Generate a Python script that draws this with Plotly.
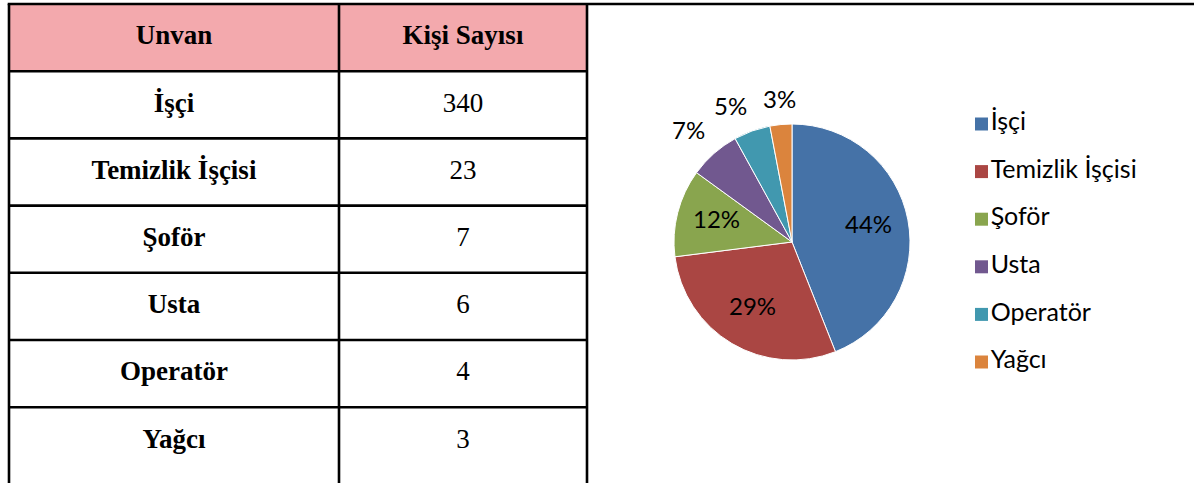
import math
import plotly.graph_objects as go

# ---------------- data ----------------
header = ["Unvan", "Kişi Sayısı"]
titles = ["İşçi", "Temizlik İşçisi", "Şoför", "Usta", "Operatör", "Yağcı"]
counts = [340, 23, 7, 6, 4, 3]
pie_percent = [44, 29, 12, 7, 5, 3]
colors = ["#4572A7", "#AA4643", "#89A54E", "#71588F", "#4198AF", "#DB843D"]

# ---------------- layout constants (pixels) ----------------
W, H = 1194, 483
col_edges = [9, 339, 587]
table_top = 4
row_h = 67.2
n_rows = len(titles) + 1
row_lines = [table_top + row_h * k for k in range(1, n_rows)]
col_centers = [(col_edges[i] + col_edges[i + 1]) / 2 for i in range(2)]
row_centers = [table_top + row_h * (k + 0.5) for k in range(n_rows)]

serif = "Liberation Serif"
sans = "Lato"
tsize = 27

fig = go.Figure()

# header text
fig.add_trace(go.Scatter(
    x=col_centers, y=[row_centers[0]] * 2, text=header, mode="text",
    textfont=dict(family=serif, size=tsize, color="black", weight="bold"),
    hoverinfo="skip", showlegend=False))
# names
fig.add_trace(go.Scatter(
    x=[col_centers[0]] * len(titles), y=row_centers[1:], text=titles, mode="text",
    textfont=dict(family=serif, size=tsize, color="black", weight="bold"),
    hoverinfo="skip", showlegend=False))
# counts
fig.add_trace(go.Scatter(
    x=[col_centers[1]] * len(counts), y=row_centers[1:], text=[str(c) for c in counts],
    mode="text", textfont=dict(family=serif, size=tsize, color="black"),
    hoverinfo="skip", showlegend=False))

# legend drawn as markers + text
leg_x = 981.5
leg_top = 124
leg_gap = 47.6
fig.add_trace(go.Scatter(
    x=[leg_x] * len(titles), y=[leg_top + leg_gap * i for i in range(len(titles))],
    text=titles, mode="markers+text", textposition="middle right",
    marker=dict(symbol="square", size=13, color=colors, line=dict(width=0)),
    textfont=dict(family=sans, size=25, color="black"),
    hoverinfo="skip", showlegend=False))

# pie
cx, cy, r = 792, 242, 118
fig.add_trace(go.Pie(
    labels=titles, values=pie_percent, sort=False, direction="clockwise", rotation=0,
    marker=dict(colors=colors, line=dict(color="white", width=1)),
    textinfo="none",
    domain=dict(x=[(cx - r) / W, (cx + r) / W], y=[1 - (cy + r) / H, 1 - (cy - r) / H]),
    showlegend=False, hoverinfo="label+percent"))

# percentage labels, positioned from the slice angles
total = sum(pie_percent)
annotations = []
cum = 0
for v in pie_percent:
    theta = 2 * math.pi * (cum + v / 2) / total
    cum += v
    ux, uy = math.sin(theta), -math.cos(theta)
    pct = f"{round(100 * v / total)}%"
    if v / total >= 0.10:
        ax_, ay_ = cx + 0.66 * r * ux, cy + 0.66 * r * uy - 4
        xa, ya = "center", "middle"
    else:
        d = r + 10
        ax_, ay_ = cx + d * ux, cy + d * uy
        xa = "right" if ux < -0.3 else ("left" if ux > 0.3 else "center")
        ya = "bottom" if uy < -0.3 else ("top" if uy > 0.3 else "middle")
    annotations.append(dict(x=ax_, y=ay_, xref="x", yref="y", text=pct, showarrow=False,
                            xanchor=xa, yanchor=ya,
                            font=dict(family=sans, size=24, color="black")))

shapes = []
# header fill
shapes.append(dict(type="rect", xref="x", yref="y", x0=col_edges[0], x1=col_edges[2],
                   y0=table_top, y1=row_lines[0], fillcolor="#F3A9AD", line=dict(width=0),
                   layer="below"))
line_style = dict(color="black", width=2.6)
# top frame line
shapes.append(dict(type="line", xref="x", yref="y", x0=col_edges[0] - 1.3, x1=W,
                   y0=table_top, y1=table_top, line=line_style))
# vertical lines
for xe in col_edges:
    shapes.append(dict(type="line", xref="x", yref="y", x0=xe, x1=xe,
                       y0=table_top, y1=H + 5, line=line_style))
# row lines
for yl in row_lines:
    shapes.append(dict(type="line", xref="x", yref="y", x0=col_edges[0], x1=col_edges[2],
                       y0=yl, y1=yl, line=line_style))

fig.update_layout(
    width=W, height=H, margin=dict(l=0, r=0, t=0, b=0),
    paper_bgcolor="white", plot_bgcolor="white",
    xaxis=dict(range=[0, W], visible=False, fixedrange=True, domain=[0, 1]),
    yaxis=dict(range=[H, 0], visible=False, fixedrange=True, domain=[0, 1]),
    shapes=shapes, annotations=annotations, showlegend=False,
)

fig.write_html("out.html", config={"displayModeBar": False},
               post_script="document.body.style.margin='0';document.body.style.overflow='hidden';")
